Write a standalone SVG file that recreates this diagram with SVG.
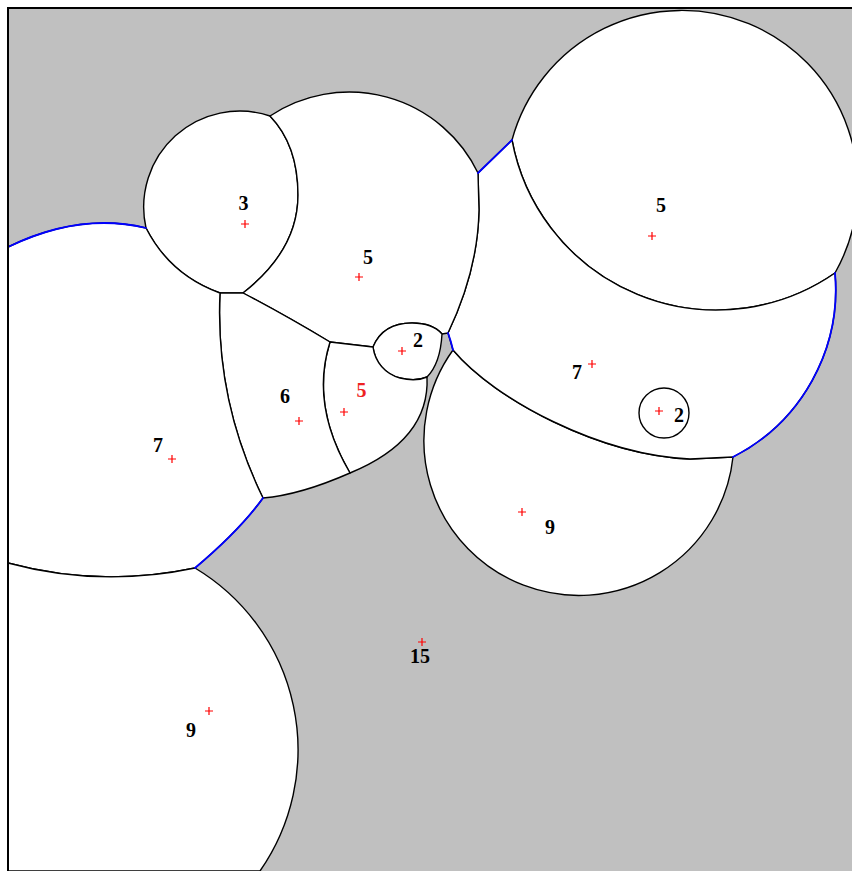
<svg xmlns="http://www.w3.org/2000/svg" width="852" height="871" viewBox="0 0 852 871">
<style>
.cell{fill:#ffffff;stroke:#000000;stroke-width:1.4;stroke-linejoin:round}
.blue{fill:none;stroke:#0000ff;stroke-width:1.8;stroke-linecap:round}
.mk{stroke:#ff0000;stroke-width:1.2;fill:none}
.lb{font-family:"Liberation Serif","Times New Roman",serif;font-weight:bold;font-size:20px;text-anchor:middle;fill:#000}
.red{fill:#ee2222}
</style>
<defs>
<path id="plus" d="M-4,0 H4 M0,-4 V4"/>
</defs>
<rect x="0" y="0" width="852" height="871" fill="#ffffff"/>
<rect x="8" y="8" width="844" height="863" fill="#c0c0c0"/>

<g id="cell-9-right"><path class="cell" d="M453,350 C495,400 600,455 690,459 L733,457 A155,155 0 1 1 453,350 Z"/></g>
<g id="cell-5-top-right"><path class="cell" d="M512,140 A176,176 0 1 1 835,273 A208,208 0 0 1 512,140 Z"/></g>
<g id="cell-7-right"><path class="cell" d="M478,173 L512,140 A208,208 0 0 0 835,273 A188,188 0 0 1 733,457 L690,459 C600,455 495,400 453,350 L448,333 Q478,270 479,210 Z"/></g>
<g id="cell-2-right"><circle class="cell" cx="664" cy="413" r="25"/></g>
<g id="cell-3"><path class="cell" d="M270,116 A96,96 0 0 0 146,228 Q170,275 220,293 L243,293 Q298,250 298,195 Q298,145 270,116 Z"/></g>
<g id="cell-5-mid"><path class="cell" d="M270,116 A143,143 0 0 1 478,173 L479,210 Q478,270 448,333 L442,334 C436,327 425,323 412,323 C395,323 380,330 373,347 L330,342 Q285,315 243,293 Q298,250 298,195 Q298,145 270,116 Z"/></g>
<g id="cell-2-small"><path class="cell" d="M373,347 C380,330 395,323 412,323 C425,323 436,327 442,334 C441,352 436,368 427,377 C418,381 408,380 400,378 C385,374 375,362 373,347 Z"/></g>
<g id="cell-5-red"><path class="cell" d="M330,342 L373,347 C375,362 385,374 400,378 C408,380 418,381 427,377 Q430,440 350,473 Q310,405 330,342 Z"/></g>
<g id="cell-6"><path class="cell" d="M220,293 L243,293 Q285,315 330,342 Q310,405 350,473 Q300,495 263,498 Q215,400 220,293 Z"/></g>
<g id="cell-7-left"><path class="cell" d="M8,247 Q80,212 146,228 Q170,275 220,293 Q215,400 263,498 Q240,530 195,568 Q100,588 8,563 Z"/></g>
<g id="cell-9-left"><path class="cell" d="M8,563 Q100,588 195,568 A212,212 0 0 1 260,871 L8,871 Z"/></g>

<g id="connectors">
<path class="blue" d="M8,247 Q80,212 146,228"/>
<path class="blue" d="M263,498 Q240,530 195,568"/>
<path class="blue" d="M478,173 L512,140"/>
<path class="blue" d="M448,333 Q451,341 453,350"/>
<path class="blue" d="M835,273 A188,188 0 0 1 733,457"/>
</g>

<g id="markers" class="mk">
<use href="#plus" x="245" y="224"/>
<use href="#plus" x="359" y="277"/>
<use href="#plus" x="402" y="351"/>
<use href="#plus" x="344" y="412"/>
<use href="#plus" x="299" y="421"/>
<use href="#plus" x="172" y="459"/>
<use href="#plus" x="652" y="236"/>
<use href="#plus" x="592" y="364"/>
<use href="#plus" x="659" y="411"/>
<use href="#plus" x="522" y="512"/>
<use href="#plus" x="422" y="642"/>
<use href="#plus" x="209" y="711"/>
</g>

<g id="labels">
<text class="lb" x="243.5" y="210">3</text>
<text class="lb" x="368" y="264">5</text>
<text class="lb" x="418" y="347">2</text>
<text class="lb red" x="361.5" y="397">5</text>
<text class="lb" x="285" y="403">6</text>
<text class="lb" x="158" y="452">7</text>
<text class="lb" x="661" y="212">5</text>
<text class="lb" x="577" y="379">7</text>
<text class="lb" x="679" y="422">2</text>
<text class="lb" x="550" y="534">9</text>
<text class="lb" x="420" y="663">15</text>
<text class="lb" x="191" y="737">9</text>
</g>

<g id="frame">
<line x1="7" y1="8" x2="852" y2="8" stroke="#000" stroke-width="2"/>
<line x1="8" y1="7" x2="8" y2="871" stroke="#000" stroke-width="2"/>
</g>
</svg>
